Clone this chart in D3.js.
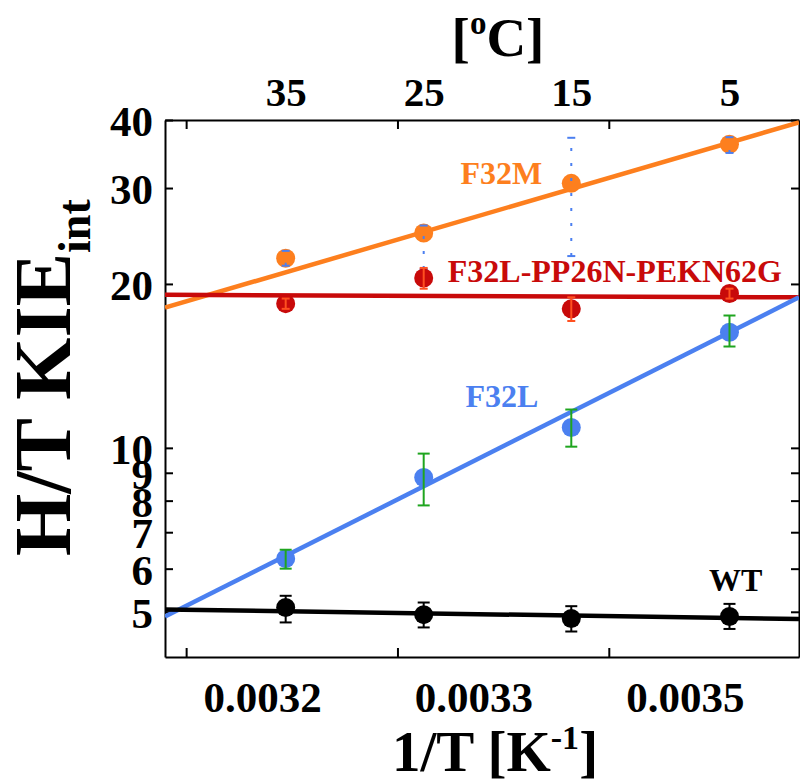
<!DOCTYPE html>
<html>
<head>
<script src="https://d3js.org/d3.v7.min.js"></script>
<style>
  body { margin: 0; background: #fff; }
  text { font-family: "Liberation Serif", "Times New Roman", serif; font-weight: bold; }
  .axis path, .axis line { stroke: #000; stroke-width: 2; }
  .axis text { font-size: 43px; fill: #000; }
</style>
</head>
<body>
<div id="chart"></div>
<script>
// temperatures (top axis) and 1/T ticks (bottom axis)
var celsius = [35, 25, 15, 5];
var xTickValues = [19 / 6000, 20 / 6000, 21 / 6000];
var xTickLabels = ["0.0032", "0.0033", "0.0035"];
var yTickValues = [5, 6, 7, 8, 9, 10, 20, 30, 40];

// measured KIE values at each temperature
var f32m = [22.3, 24.8, 30.6, 36.1];
var f32mLow = [21.6, 21.3, 22.5, 34.8];
var f32mHigh = [23.0, 25.6, 37.1, 37.2];

var triple = [18.4, 20.5, 18.0, 19.2];
var tripleLow = [18.0, 19.6, 17.1, 18.8];
var tripleHigh = [18.8, 21.4, 18.9, 19.6];

var f32l = [6.26, 8.82, 10.9, 16.3];
var f32lLow = [6.0, 7.84, 10.05, 15.35];
var f32lHigh = [6.5, 9.76, 11.76, 17.5];

var wt = [5.09, 4.94, 4.86, 4.90];
var wtLow = [4.78, 4.68, 4.6, 4.65];
var wtHigh = [5.35, 5.2, 5.12, 5.17];

// fitted lines: value at left and right end of the 1/T domain
var xDomain = [0.00315, 0.00365];
var f32mFit = [18.1, 39.6];
var tripleFit = [19.1, 18.9];
var f32lFit = [4.9, 18.9];
var wtFit = [5.05, 4.85];

var W = 800, H = 784;
var margin = { top: 120, right: 1, bottom: 127, left: 165 };
var width = W - margin.left - margin.right,
    height = H - margin.top - margin.bottom;

var svg = d3.select("#chart").append("svg")
    .attr("width", W).attr("height", H);
var g = svg.append("g")
    .attr("transform", "translate(" + margin.left + "," + margin.top + ")");

var x = d3.scaleLinear().domain(xDomain).range([0, width]);
var y = d3.scaleLog().domain([4.13, 40]).range([height, 0]);

var invT = celsius.map(function (c) { return 1 / (c + 273.15); });

// axes, ticks pointing inward
g.append("g").attr("class", "axis")
    .attr("transform", "translate(0," + height + ")")
    .call(d3.axisBottom(x).tickValues(xTickValues).tickSizeInner(-9).tickSizeOuter(0)
        .tickFormat(function (d, i) { return xTickLabels[i]; }))
    .selectAll("text").attr("dx", 76).attr("dy", 52);

g.append("g").attr("class", "axis")
    .call(d3.axisTop(x).tickValues(xTickValues).tickSizeInner(-9).tickSizeOuter(0)
        .tickFormat(""));

g.append("g").attr("class", "axis")
    .call(d3.axisTop(x).tickValues(invT).tickSize(0)
        .tickFormat(function (d, i) { return celsius[i]; }))
    .call(function (s) { s.select(".domain").remove(); })
    .selectAll("text").attr("dy", -11).style("font-size", "41px");

g.append("g").attr("class", "axis")
    .call(d3.axisLeft(y).tickValues(yTickValues).tickSizeInner(-8).tickSizeOuter(0)
        .tickFormat(d3.format("d")))
    .selectAll("text").attr("dx", -9).attr("dy", "0.36em");

g.append("g").attr("class", "axis")
    .attr("transform", "translate(" + width + ",0)")
    .call(d3.axisRight(y).tickValues(yTickValues).tickSizeInner(-8).tickSizeOuter(0)
        .tickFormat(""));

// axis titles
svg.append("text")
    .attr("x", 495).attr("y", 771)
    .attr("text-anchor", "middle")
    .style("font-size", "57px")
    .html('1/T [K<tspan dy="-22" font-size="34px">-1</tspan><tspan dy="22">]</tspan>');

svg.append("text")
    .attr("x", 498).attr("y", 56)
    .attr("text-anchor", "middle")
    .style("font-size", "55px")
    .html('[<tspan dy="-22" font-size="33px">o</tspan><tspan dy="22">C]</tspan>');

svg.append("text")
    .attr("transform", "translate(70," + 556 + ") rotate(-90)")
    .attr("text-anchor", "start")
    .style("font-size", "80px")
    .html('H/T KIE<tspan dy="20" font-size="46px">int</tspan>');

// plot area clip
svg.append("clipPath").attr("id", "clip")
    .append("rect").attr("width", width).attr("height", height);
var plot = g.append("g").attr("clip-path", "url(#clip)");

var series = [
    { vals: f32m, low: f32mLow, high: f32mHigh, fit: f32mFit, color: "#fd7f1e", err: "#4b7ff0", dash: "3,12", cap: 4 },
    { vals: triple, low: tripleLow, high: tripleHigh, fit: tripleFit, color: "#c80a0a", err: "#ff5020", dash: null, cap: 4 },
    { vals: f32l, low: f32lLow, high: f32lHigh, fit: f32lFit, color: "#4b80f0", err: "#1fa51f", dash: null, cap: 6 },
    { vals: wt, low: wtLow, high: wtHigh, fit: wtFit, color: "#000", err: "#000", dash: null, cap: 6 }
];

series.forEach(function (s) {
    plot.append("path")
        .datum(s.fit)
        .attr("fill", "none")
        .attr("stroke", s.color)
        .attr("stroke-width", 4.5)
        .attr("d", d3.line()
            .x(function (d, i) { return x(xDomain[i]); })
            .y(function (d) { return y(d); }));

    plot.selectAll(null).data(s.vals).enter()
        .append("circle")
        .attr("cx", function (d, i) { return x(invT[i]); })
        .attr("cy", function (d) { return y(d); })
        .attr("r", 9.5)
        .attr("fill", s.color);

    var eb = plot.append("g")
        .attr("stroke", s.err)
        .attr("stroke-width", 2);
    s.vals.forEach(function (v, i) {
        var cx = x(invT[i]);
        eb.append("line")
            .attr("x1", cx).attr("x2", cx)
            .attr("y1", y(s.low[i])).attr("y2", y(s.high[i]))
            .attr("stroke-dasharray", s.dash);
        [s.low[i], s.high[i]].forEach(function (e) {
            eb.append("line")
                .attr("x1", cx - s.cap).attr("x2", cx + s.cap)
                .attr("y1", y(e)).attr("y2", y(e));
        });
    });
});

// series labels
var labels = [
    { text: "F32M", color: "#fd7f1e", xv: 0.003383, yv: 30.5 },
    { text: "F32L-PP26N-PEKN62G", color: "#c80a0a", xv: 0.003373, yv: 20.2 },
    { text: "F32L", color: "#4b80f0", xv: 0.003387, yv: 11.9 },
    { text: "WT", color: "#000", xv: 0.003579, yv: 5.45 }
];
g.selectAll(".lbl").data(labels).enter()
    .append("text")
    .attr("x", function (d) { return x(d.xv); })
    .attr("y", function (d) { return y(d.yv); })
    .attr("fill", function (d) { return d.color; })
    .style("font-size", "32px")
    .text(function (d) { return d.text; });
</script>
</body>
</html>
